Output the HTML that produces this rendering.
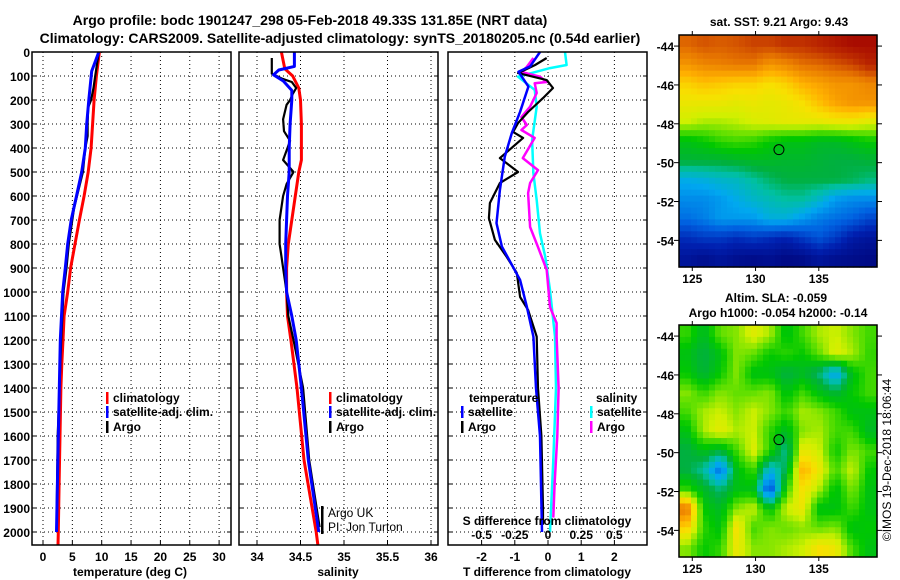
<!DOCTYPE html>
<html><head><meta charset="utf-8"><style>
html,body{margin:0;padding:0;background:#fff;}
svg{display:block;font-family:"Liberation Sans",sans-serif;}
.b{font-weight:bold;font-size:12px;fill:#000;}
.t{font-weight:bold;font-size:14px;fill:#000;}
</style></head><body>
<svg id="chart" width="900" height="580" viewBox="0 0 900 580" xmlns="http://www.w3.org/2000/svg">
<text class="t" x="310" y="25" text-anchor="middle">Argo profile: bodc 1901247_298 05-Feb-2018 49.33S 131.85E (NRT data)</text>
<text class="t" x="340" y="43" text-anchor="middle">Climatology: CARS2009. Satellite-adjusted climatology: synTS_20180205.nc (0.54d earlier)</text>
<g id="grids"></g>
<g id="maps"></g>
<g id="lines"></g>
<g id="frames"></g>
<g id="labels"></g>
</svg>
<script>
// ---------- data ----------
const depthTicks = [0,100,200,300,400,500,600,700,800,900,1000,1100,1200,1300,1400,1500,1600,1700,1800,1900,2000];
const tempTicks = [0,5,10,15,20,25,30];
const salTicks = [34,34.5,35,35.5,36];
const tdiffTicks = [-2,-1,0,1,2];
const sdiffTicks = [-0.5,-0.25,0,0.25,0.5];

const tClimDepth = [0,100,200,300,400,500,600,700,800,900,1000,1100,1200,1300,1400,1600,1800,2000,2055];
const tClimVal   = [9.6,9.1,8.7,8.45,8.2,7.7,7.0,6.2,5.45,4.7,4.2,3.6,3.4,3.2,3.05,2.9,2.75,2.6,2.55];
const tSatDepth = [0,80,200,300,400,500,600,700,800,900,1000,1100,1200,1500,1800,2000];
const tSatVal   = [9.5,8.3,7.8,7.45,7.2,6.6,5.7,4.8,4.2,3.8,3.35,3.15,2.95,2.7,2.45,2.3];
const tArgoDepth = [0,50,100,150,200,230,300,350,400,500,600,650,700,800,900,1000,1200,1600,1900,1960];
const tArgoVal   = [9.5,9.2,8.9,8.6,8.2,7.7,7.6,7.6,7.2,6.8,5.8,5.3,5.0,4.4,4.0,3.5,3.1,2.5,2.35,2.35];

const sClimDepth = [0,70,100,150,200,300,450,500,600,700,800,900,1000,1100,1200,1400,1700,2000,2055];
const sClimVal   = [34.28,34.32,34.41,34.48,34.5,34.51,34.51,34.48,34.44,34.40,34.36,34.34,34.34,34.35,34.39,34.46,34.54,34.68,34.70];
const sSatDepth = [0,60,75,95,120,160,200,300,400,500,600,800,900,1000,1100,1200,1400,1700,2000];
const sSatVal   = [34.43,34.43,34.25,34.19,34.30,34.40,34.40,34.38,34.37,34.37,34.35,34.33,34.33,34.34,34.40,34.45,34.51,34.59,34.71];
const sArgoDepth = [25,90,110,125,150,175,200,220,280,330,370,400,450,500,550,600,700,800,850,900,1000,1100,1200,1400,1700,1980];
const sArgoVal   = [34.17,34.17,34.28,34.40,34.45,34.41,34.38,34.34,34.30,34.31,34.38,34.35,34.30,34.42,34.34,34.30,34.26,34.26,34.28,34.30,34.34,34.36,34.42,34.53,34.60,34.72];

const dTSatDepth = [0,60,82,144,249,338,436,575,713,811,874,950,1061,1186,1400,1600,2000];
const dTSatVal   = [-0.24,-0.54,-0.89,-0.59,-0.84,-1.09,-1.3,-1.45,-1.55,-1.39,-1.14,-0.84,-0.64,-0.44,-0.36,-0.24,-0.18];
const dTArgoDepth = [25,54,88,117,150,192,250,296,333,358,442,500,546,629,692,783,854,921,1021,1075,1186,1400,1600,1900,1970];
const dTArgoVal   = [-0.04,-0.39,-0.9,-0.04,0.15,-0.15,-0.6,-0.9,-1.05,-0.75,-1.45,-0.9,-1.45,-1.75,-1.78,-1.6,-1.24,-0.94,-0.84,-0.6,-0.34,-0.3,-0.2,-0.15,-0.15];
const dSSatDepth = [0,54,67,103,158,228,367,506,617,756,854,992,1186,1400,1700,2000];
const dSSatVal   = [0.128,0.14,0.015,-0.226,-0.1,-0.085,-0.12,-0.11,-0.085,-0.06,-0.02,0.015,0.053,0.06,0.04,0.015];
const dSArgoDepth = [25,62,83,103,125,130,171,228,271,304,325,358,442,492,546,588,729,813,908,1063,1129,1186,1400,1600,1800,1940];
const dSArgoVal   = [-0.11,-0.16,-0.2,-0.06,-0.01,-0.1,-0.085,-0.135,-0.2,-0.16,-0.2,-0.1,-0.19,-0.075,-0.135,-0.15,-0.135,-0.075,-0.01,0.015,0.065,0.065,0.08,0.07,0.05,0.04];

const latTicks = [-44,-46,-48,-50,-52,-54];
const lonTicks = [125,130,135];
const sstGrid = [
[.86,.88,.87,.88,.90,.90,.92,.92,.94,.96,.98,.98],
[.80,.82,.83,.84,.84,.80,.82,.85,.86,.88,.90,.94],
[.72,.74,.73,.72,.72,.70,.72,.76,.78,.80,.80,.82],
[.68,.68,.68,.67,.68,.67,.68,.70,.74,.78,.80,.80],
[.64,.62,.62,.63,.65,.66,.67,.67,.67,.68,.68,.66],
[.50,.52,.55,.56,.55,.52,.50,.50,.48,.48,.50,.52],
[.46,.46,.46,.47,.48,.48,.47,.47,.46,.45,.45,.46],
[.33,.34,.36,.37,.40,.43,.45,.45,.45,.45,.44,.42],
[.28,.28,.30,.33,.36,.38,.40,.40,.36,.30,.28,.28],
[.24,.26,.30,.30,.30,.34,.34,.30,.26,.24,.22,.18],
[.14,.16,.16,.14,.16,.14,.12,.16,.20,.16,.10,.08],
[.08,.06,.08,.06,.05,.06,.04,.05,.08,.06,.05,.04]];
const slaGrid = [
[.55,.48,.58,.60,.66,.62,.50,.56,.62,.64,.60,.56],
[.50,.45,.50,.60,.58,.52,.55,.52,.58,.66,.62,.55],
[.52,.46,.52,.60,.50,.50,.45,.48,.42,.30,.50,.56],
[.60,.55,.60,.58,.58,.60,.50,.56,.50,.46,.52,.56],
[.56,.62,.64,.60,.64,.60,.55,.62,.60,.56,.50,.50],
[.50,.62,.67,.62,.64,.55,.48,.60,.62,.56,.56,.48],
[.45,.50,.46,.56,.66,.55,.40,.68,.64,.52,.60,.56],
[.45,.40,.24,.50,.56,.34,.45,.76,.68,.56,.64,.52],
[.55,.48,.42,.50,.50,.18,.55,.70,.62,.50,.60,.50],
[.84,.52,.48,.60,.64,.50,.64,.68,.50,.50,.56,.50],
[.72,.55,.50,.70,.56,.60,.58,.60,.58,.60,.50,.52],
[.60,.52,.55,.68,.60,.60,.62,.64,.70,.68,.56,.50]];
const argoLon = 131.85, argoLat = -49.33;

// ---------- helpers ----------
const NS = "http://www.w3.org/2000/svg";
function mk(tag, parent, attrs){ const e=document.createElementNS(NS,tag); for(const k in attrs) e.setAttribute(k,attrs[k]); document.getElementById(parent).appendChild(e); return e; }
const yD = d => 52 + d*0.24;
const xT = t => 43 + t*5.87;
const xS = s => 257 + (s-34)*87;
const xDT = t => 548 + t*33.2;
const xDS = s => 548 + s*132.8;
const panels = [{x0:32,x1:231,name:'temperature-panel'},{x0:239,x1:438,name:'salinity-panel'},{x0:448,x1:647,name:'difference-panel'}];
const PY0=52, PY1=545;

panels.forEach(p=>{
  depthTicks.forEach(d=>{
    const l=mk('line','grids',{x1:p.x0,x2:p.x1,y1:yD(d),y2:yD(d),stroke:'#000','stroke-width':1,'stroke-dasharray':'1,3'});
    
    
    mk('line','grids',{x1:p.x0,x2:p.x0+4,y1:yD(d),y2:yD(d),stroke:'#000'});
    mk('line','grids',{x1:p.x1-4,x2:p.x1,y1:yD(d),y2:yD(d),stroke:'#000'});
  });
});
function vgrid(vals,fx){
  vals.forEach(v=>{
    const l=mk('line','grids',{x1:fx(v),x2:fx(v),y1:PY0,y2:PY1,stroke:'#000','stroke-dasharray':'1,3'});
    
    
    mk('line','grids',{x1:fx(v),x2:fx(v),y1:PY1-4,y2:PY1,stroke:'#000'});
  });
}
vgrid(tempTicks,xT); vgrid(salTicks,xS); vgrid(tdiffTicks,xDT);

panels.forEach(p=>{
  const r=mk('rect','frames',{x:p.x0,y:PY0,width:p.x1-p.x0,height:PY1-PY0,fill:'none',stroke:'#000','stroke-width':1.5});
  
  
});

function series(dep,val,fx,color,w,name){
  const pts=dep.map((d,i)=>fx(val[i]).toFixed(1)+','+yD(d).toFixed(1)).join(' ');
  const pl=mk('polyline','lines',{points:pts,fill:'none',stroke:color,'stroke-width':w,'stroke-linejoin':'round'});
  
  
}
series(tClimDepth,tClimVal,xT,'#ff0000',3,'temperature-climatology-line');
series(tArgoDepth,tArgoVal,xT,'#000',2.2,'temperature-argo-line');
series(tSatDepth,tSatVal,xT,'#0000ff',3,'temperature-satellite-line');
series(sClimDepth,sClimVal,xS,'#ff0000',3,'salinity-climatology-line');
series(sArgoDepth,sArgoVal,xS,'#000',2.2,'salinity-argo-line');
series(sSatDepth,sSatVal,xS,'#0000ff',3,'salinity-satellite-line');
series(dSSatDepth,dSSatVal,xDS,'#00ffff',2.5,'s-diff-satellite-line');
series(dSArgoDepth,dSArgoVal,xDS,'#ff00ff',2.5,'s-diff-argo-line');
series(dTArgoDepth,dTArgoVal,xDT,'#000',2.2,'t-diff-argo-line');
series(dTSatDepth,dTSatVal,xDT,'#0000ff',2.5,'t-diff-satellite-line');

function txt(x,y,s,cls,anchor,name,extra){
  const t=mk('text','labels',Object.assign({x:x,y:y,class:cls,'text-anchor':anchor||'start'},extra||{}));
  t.textContent=s;
  
  
  return t;
}
depthTicks.forEach(d=>txt(30,yD(d)+5,String(d),'b','end','depth-tick-label'));
tempTicks.forEach(v=>txt(xT(v),561,String(v),'b','middle','temperature-tick-label'));
salTicks.forEach(v=>txt(xS(v),561,String(v),'b','middle','salinity-tick-label'));
tdiffTicks.forEach(v=>txt(xDT(v),561,String(v),'b','middle','t-diff-tick-label'));
sdiffTicks.forEach(v=>txt(xDS(v),539,String(v),'b','middle','s-diff-tick-label'));
txt(130,576,'temperature (deg C)','b','middle','temperature-axis-title');
txt(338,576,'salinity','b','middle','salinity-axis-title');
txt(547,576,'T difference from climatology','b','middle','t-diff-axis-title');
txt(547,525,'S difference from climatology','b','middle','s-diff-axis-title');
function leg(x,y,color,label,name){
  const r=mk('rect','labels',{x:x,y:y-10,width:2.5,height:12,fill:color});
  
  
  txt(x+7,y,label,'b','start',name);
}
leg(106,402,'#ff0000','climatology','legend-climatology');
leg(106,416,'#0000ff','satellite-adj. clim.','legend-satellite');
leg(106,431,'#000','Argo','legend-argo');
leg(329,402,'#ff0000','climatology','legend-sal-climatology');
leg(329,416,'#0000ff','satellite-adj. clim.','legend-sal-satellite');
leg(329,431,'#000','Argo','legend-sal-argo');
txt(469,402,'temperature','b','start','legend-temperature-header');
leg(461,416,'#0000ff','satellite','legend-t-satellite');
leg(461,431,'#000','Argo','legend-t-argo');
txt(596,402,'salinity','b','start','legend-salinity-header');
leg(590,416,'#00ffff','satellite','legend-s-satellite');
leg(590,431,'#ff00ff','Argo','legend-s-argo');
txt(328,517,'Argo UK','','start','argo-uk-label',{style:'font-size:12px'});
txt(328,531,'PI: Jon Turton','','start','pi-label',{style:'font-size:12px'});
mk('rect','labels',{x:321,y:506,width:2.5,height:28,fill:'#000'});

const stops=[[0,[0,0,112]],[.12,[0,32,176]],[.22,[0,96,224]],[.32,[0,168,240]],[.40,[0,192,160]],[.45,[0,176,64]],[.52,[0,200,0]],[.58,[96,224,0]],[.64,[208,240,0]],[.70,[248,224,0]],[.76,[255,176,0]],[.84,[232,120,0]],[.92,[192,48,0]],[1,[160,0,0]]];
function cmap(v){
  v=Math.max(0,Math.min(1,v));
  for(let i=1;i<stops.length;i++){ if(v<=stops[i][0]){ const a=stops[i-1],b=stops[i],f=(v-a[0])/(b[0]-a[0]); return 'rgb('+a[1].map((c,k)=>Math.round(c+(b[1][k]-c)*f)).join(',')+')'; } }
  return 'rgb(160,0,0)';
}
const MX0=679,MX1=877, lon0=123.95, lon1=139.6, lat0=-43.43, lat1=-55.37;
function drawMap(grid,top,name,nx,ny){
  const h=232, bot=top+h;
  const lx = lon => MX0+(lon-lon0)/(lon1-lon0)*(MX1-MX0);
  const ly = lat => top+(lat-lat0)/(lat1-lat0)*h;
  const g=mk('g','maps',{});
  
  
  const R=grid.length, C=grid[0].length;
  const cw=(MX1-MX0)/nx, ch=h/ny;
  for(let j=0;j<ny;j++)for(let i=0;i<nx;i++){
    const gy=Math.max(0,Math.min(R-1,(j+0.5)/ny*R-0.5)), gx=Math.max(0,Math.min(C-1,(i+0.5)/nx*C-0.5));
    const r0=Math.floor(gy), c0=Math.floor(gx), r1=Math.min(R-1,r0+1), c1=Math.min(C-1,c0+1), fy=gy-r0, fx=gx-c0;
    const v=grid[r0][c0]*(1-fx)*(1-fy)+grid[r0][c1]*fx*(1-fy)+grid[r1][c0]*(1-fx)*fy+grid[r1][c1]*fx*fy;
    const c=document.createElementNS(NS,'rect');
    c.setAttribute('x',(MX0+i*cw).toFixed(2));c.setAttribute('y',(top+j*ch).toFixed(2));
    c.setAttribute('width',(cw+0.6).toFixed(2));c.setAttribute('height',(ch+0.6).toFixed(2));
    c.setAttribute('fill',cmap(v));
    
    
    g.appendChild(c);
  }
  const fr=mk('rect','maps',{x:MX0,y:top,width:MX1-MX0,height:h,fill:'none',stroke:'#000','stroke-width':1.5});
  
  
  latTicks.forEach(l=>{
    mk('line','maps',{x1:MX0-5,x2:MX0,y1:ly(l),y2:ly(l),stroke:'#000'});
    mk('line','maps',{x1:MX1,x2:MX1+5,y1:ly(l),y2:ly(l),stroke:'#000'});
    txt(674,ly(l)+5,String(l),'b','end','latitude-tick-label');
  });
  lonTicks.forEach(l=>{
    mk('line','maps',{x1:lx(l),x2:lx(l),y1:top-4,y2:top,stroke:'#000'});
    mk('line','maps',{x1:lx(l),x2:lx(l),y1:bot,y2:bot+4,stroke:'#000'});
    txt(lx(l),bot+16,String(l),'b','middle','longitude-tick-label');
  });
  const c=mk('circle','maps',{cx:lx(argoLon),cy:ly(argoLat),r:5,fill:'none',stroke:'#000','stroke-width':1});
  
  
}
drawMap(sstGrid,35,'sst-map',33,39);
drawMap(slaGrid,325,'sla-map',33,39);
txt(779,26,'sat. SST: 9.21 Argo: 9.43','b','middle','sst-map-title');
txt(776,302,'Altim. SLA: -0.059','b','middle','sla-map-title');
txt(778,317,'Argo h1000: -0.054 h2000: -0.14','b','middle','sla-map-subtitle');
txt(0,0,'©IMOS 19-Dec-2018 18:06:44','','middle','imos-credit',{style:'font-size:12px',transform:'translate(891,460) rotate(-90)'});
</script>
</body></html>
